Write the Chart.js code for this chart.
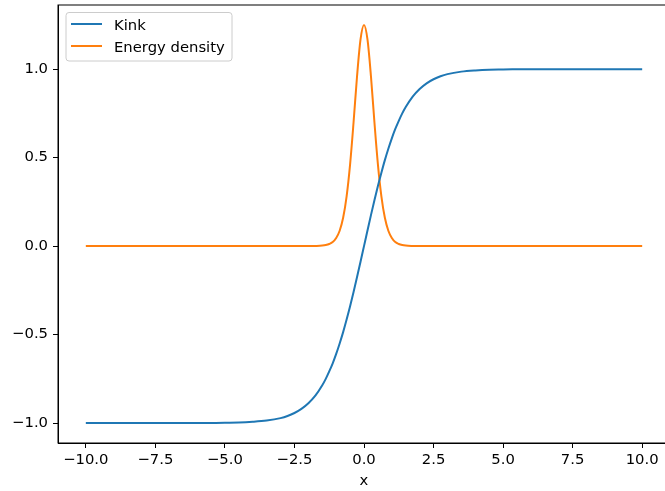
<!DOCTYPE html>
<html>
<head>
<meta charset="utf-8">
<script src="https://cdn.jsdelivr.net/npm/chart.js@4"></script>
<style>
  html, body { margin: 0; padding: 0; background: #fff; overflow: hidden; }
  #wrap { position: absolute; left: 0; top: 0; width: 676px; height: 491px; }
</style>
</head>
<body>
<div id="wrap"><canvas id="myChart" width="676" height="491"></canvas></div>
<script>
const xValues = [-10, -9, -8, -7, -6, -5, -4.5, -4, -3.5, -3, -2.75, -2.5, -2.25, -2, -1.75,
  -1.5, -1.375, -1.25, -1.125, -1, -0.875, -0.75, -0.625, -0.5, -0.375, -0.25, -0.125,
  0, 0.125, 0.25, 0.375, 0.5, 0.625, 0.75, 0.875, 1, 1.125, 1.25, 1.375, 1.5,
  1.75, 2, 2.25, 2.5, 2.75, 3, 3.5, 4, 4.5, 5, 6, 7, 8, 9, 10];

const kink = [-1.0, -1.0, -1.0, -1.0, -1.0, -0.998, -0.997, -0.993, -0.986, -0.972, -0.960, -0.943, -0.920, -0.888, -0.845,
  -0.786, -0.750, -0.708, -0.662, -0.609, -0.550, -0.486, -0.415, -0.340, -0.259, -0.175, -0.088,
  0, 0.088, 0.175, 0.259, 0.340, 0.415, 0.486, 0.550, 0.609, 0.662, 0.708, 0.750, 0.786,
  0.845, 0.888, 0.920, 0.943, 0.960, 0.972, 0.986, 0.993, 0.997, 0.998, 1.0, 1.0, 1.0, 1.0, 1.0];

const energy = [0, 0, 0, 0, 0, 0, 0, 0, 0, 0, 0, 0, 0, 0.0002, 0.001,
  0.003, 0.006, 0.012, 0.023, 0.046, 0.087, 0.160, 0.281, 0.462, 0.700, 0.960, 1.168,
  1.25, 1.168, 0.960, 0.700, 0.462, 0.281, 0.160, 0.087, 0.046, 0.023, 0.012, 0.006, 0.003,
  0.001, 0.0002, 0, 0, 0, 0, 0, 0, 0, 0, 0, 0, 0, 0, 0];

const xTicks = [-10, -7.5, -5, -2.5, 0, 2.5, 5, 7.5, 10];
const yTicks = [-1.0, -0.5, 0.0, 0.5, 1.0];

function fmt(v) {
    return (v < 0 ? '\u2212' : '') + Math.abs(v).toFixed(1);
}

const FONT = { family: 'DejaVu Sans', size: 14.8 };

// top spine + matplotlib style legend
const frame = {
    id: 'frame',
    afterDraw(chart) {
        const ctx = chart.ctx;
        const a = chart.chartArea;
        ctx.save();
        ctx.strokeStyle = '#000';
        ctx.lineWidth = 1;
        ctx.strokeRect(a.left, a.top, a.right - a.left, a.bottom - a.top);

        // legend
        const x0 = 66, y0 = 12.5, w = 166, h = 48.5, r = 3;
        ctx.beginPath();
        ctx.roundRect(x0, y0, w, h, r);
        ctx.fillStyle = 'rgba(255,255,255,0.8)';
        ctx.fill();
        ctx.strokeStyle = '#cccccc';
        ctx.lineWidth = 1;
        ctx.stroke();

        const rows = [24, 46];
        chart.data.datasets.forEach((ds, i) => {
            ctx.beginPath();
            ctx.moveTo(71, rows[i]);
            ctx.lineTo(102, rows[i]);
            ctx.strokeStyle = ds.borderColor;
            ctx.lineWidth = 2;
            ctx.stroke();
            ctx.fillStyle = '#000';
            ctx.font = '14.8px "DejaVu Sans"';
            ctx.textBaseline = 'alphabetic';
            ctx.fillText(ds.label, 114, rows[i] + 5.8);
        });
        ctx.restore();
    }
};

const data = {
    datasets: [{
        label: 'Kink',
        data: xValues.map((x, i) => ({ x: x, y: kink[i] })),
        borderColor: '#1f77b4',
        borderWidth: 2,
        pointRadius: 0,
        cubicInterpolationMode: 'monotone',
        fill: false
    }, {
        label: 'Energy density',
        data: xValues.map((x, i) => ({ x: x, y: energy[i] })),
        borderColor: '#ff7f0e',
        borderWidth: 2,
        pointRadius: 0,
        cubicInterpolationMode: 'monotone',
        fill: false
    }]
};

const config = {
    type: 'line',
    data: data,
    plugins: [frame],
    options: {
        responsive: false,
        animation: false,
        events: [],
        layout: { padding: { left: 0, right: 6, top: 5, bottom: 0 } },
        plugins: { legend: { display: false }, tooltip: { enabled: false } },
        scales: {
            x: {
                type: 'linear',
                min: -11,
                max: 11,
                afterBuildTicks: (s) => { s.ticks = xTicks.map(v => ({ value: v })); },
                afterFit: (s) => { s.height = 48; s.paddingLeft = 0; s.paddingRight = 0; },
                ticks: {
                    autoSkip: false,
                    maxRotation: 0,
                    padding: 3,
                    color: '#000',
                    font: FONT,
                    callback: (v) => fmt(v)
                },
                grid: {
                    drawOnChartArea: false,
                    drawTicks: true,
                    tickLength: 5,
                    tickColor: '#000',
                    tickWidth: 1
                },
                border: { color: '#000', width: 1 },
                title: {
                    display: true,
                    text: 'x',
                    color: '#000',
                    font: FONT,
                    padding: { top: 0, bottom: 1 }
                }
            },
            y: {
                type: 'linear',
                min: -1.1125,
                max: 1.3625,
                afterBuildTicks: (s) => { s.ticks = yTicks.map(v => ({ value: v })); },
                afterFit: (s) => { s.width = 58; s.paddingTop = 0; s.paddingBottom = 0; },
                ticks: {
                    padding: 5,
                    color: '#000',
                    font: FONT,
                    callback: (v) => fmt(v)
                },
                grid: {
                    drawOnChartArea: false,
                    drawTicks: true,
                    tickLength: 5,
                    tickColor: '#000',
                    tickWidth: 1
                },
                border: { color: '#000', width: 1 }
            }
        }
    }
};

const myChart = new Chart(document.getElementById('myChart'), config);
</script>
</body>
</html>
